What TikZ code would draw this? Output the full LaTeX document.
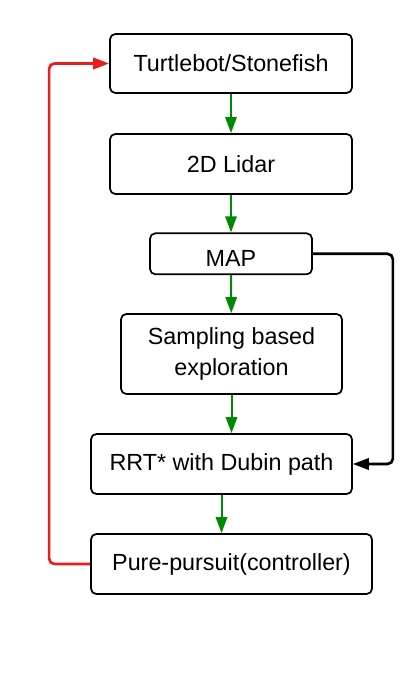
\documentclass[tikz,border=0pt]{standalone}
\usepackage{fontspec}
\setmainfont{Liberation Sans}
\usetikzlibrary{arrows.meta}
\tikzset{
  block/.style={draw, line width=1.3pt, rounded corners=4pt, inner sep=0pt,
    align=center, font=\fontsize{17.5}{23.5}\selectfont},
  flow/.style={color={rgb, 255:red, 0; green, 138; blue, 0}, line width=1.5pt,
    -{Triangle[length=12pt,width=8.5pt]}},
  feedback/.style={color={rgb, 255:red, 230; green, 30; blue, 30}, line width=2pt,
    rounded corners=4pt, -{Triangle[length=12pt,width=8.5pt]}},
  mapline/.style={color=black, line width=2pt, rounded corners=4pt,
    -{Triangle[length=12pt,width=8.5pt]}}
}
\begin{document}
\begin{tikzpicture}[x=0.75pt,y=0.75pt,yscale=-1,xscale=1]
\useasboundingbox (0,0) rectangle (413,680);

%Shape: Rectangle [id:turtle]
\node [block, minimum width=181.5pt, minimum height=44.25pt] (turtle) at (231,63.5) {Turtlebot/Stonefish};
%Shape: Rectangle [id:lidar]
\node [block, minimum width=181.5pt, minimum height=45pt] (lidar) at (231,164) {2D Lidar};
%Shape: Rectangle [id:map]
\node [block, minimum width=121.5pt, minimum height=30.75pt] (map) at (231,253.8) {\raisebox{-3.75pt}[\height][\depth]{MAP}};
%Shape: Rectangle [id:sampling]
\node [block, minimum width=165.75pt, minimum height=60pt] (sampling) at (231.5,354) {Sampling based\\exploration};
%Shape: Rectangle [id:rrt]
\node [block, minimum width=195.75pt, minimum height=45pt] (rrt) at (221.5,464) {RRT* with Dubin path};
%Shape: Rectangle [id:pursuit]
\node [block, minimum width=210.75pt, minimum height=45pt] (pursuit) at (231.5,564) {Pure-pursuit(controller)};

%Straight Lines
\draw [flow] (turtle) -- (lidar);
\draw [flow] (lidar) -- (map);
\draw [flow] (map) -- (sampling);
\draw [flow] (sampling) -- (sampling |- rrt.north);
\draw [flow] (rrt.south) -- (rrt.south |- pursuit.north);
%Feedback loop
\draw [feedback] (pursuit.west) -- ++(-41,0) |- (turtle.west);
%Map to planner
\draw [mapline] (map.east) -- ++(80,0) |- (rrt.east);

\end{tikzpicture}
\end{document}
